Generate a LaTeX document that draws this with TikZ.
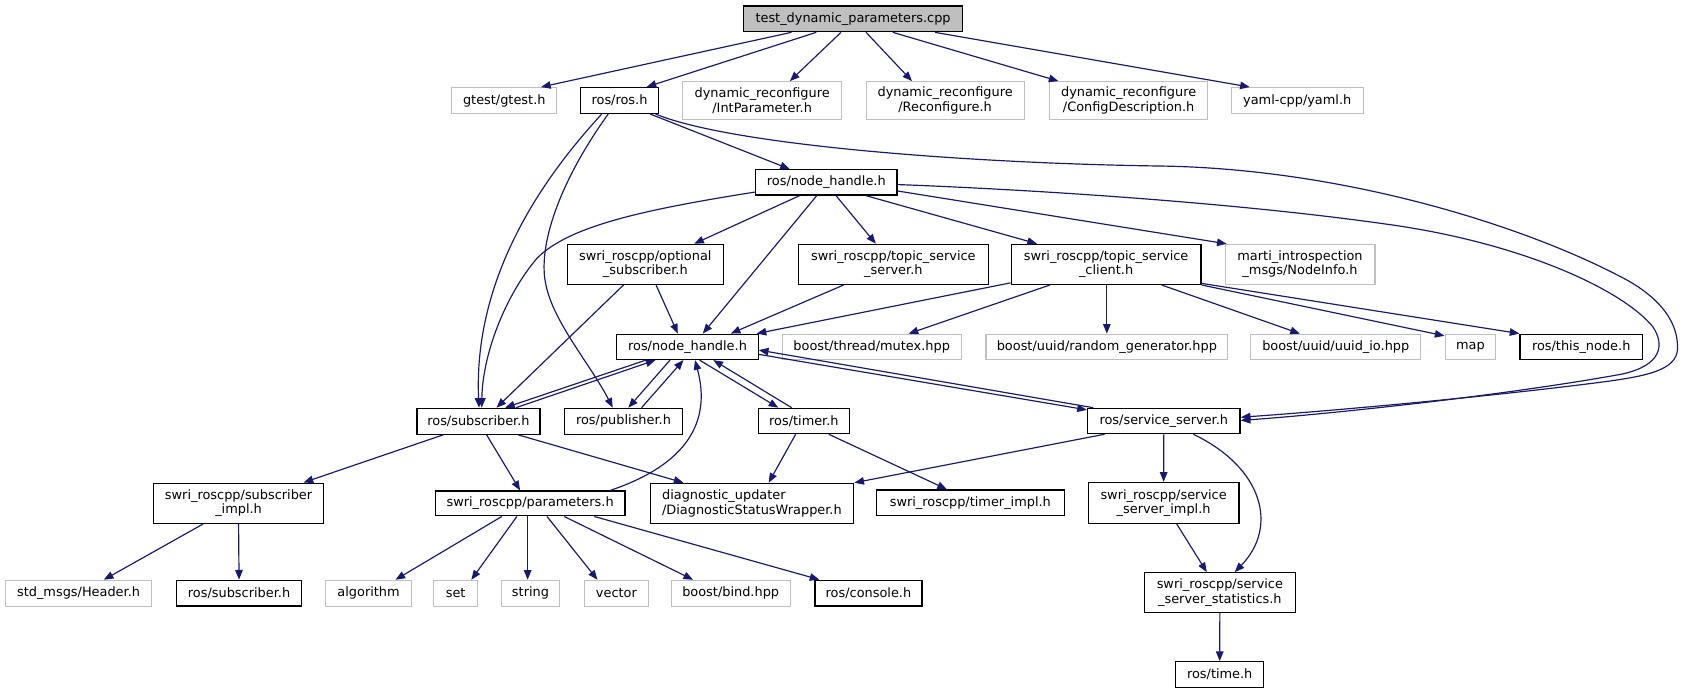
\documentclass[tikz,border=0pt]{standalone}
\usepackage{fontspec}
\setmainfont{DejaVu Sans}
\usetikzlibrary{arrows.meta}
\definecolor{edgeblue}{RGB}{25,25,112}
\definecolor{lgray}{RGB}{191,191,191}
\newcommand\gn[7]{\node[#1, minimum width={(#5-#3)*1pt}, minimum height={(#6-#4)*1pt}] (#2) at ({(#3+#5)/2},{(#4+#6)/2}) {#7};}
\begin{document}
\begin{tikzpicture}[x=1pt,y=-1pt,
  nb/.style={draw=black, line width=1.2pt, inner sep=0pt, align=center, font=\fontsize{12}{13.5}\selectfont},
  ng/.style={nb, draw=lgray, line width=1pt},
  nroot/.style={nb, fill=lgray},
  e/.style={draw=edgeblue, line width=1.1pt, -{Triangle[length=9pt,width=7pt]}}]
\useasboundingbox (0,0) rectangle (1568,645);
% row 0
\gn{nroot}{nA}{692}{5.6}{895.7}{29.5}{test\_dynamic\_parameters.cpp}
% row 1
\gn{ng}{nGtest}{420.5}{81.5}{518}{105.5}{gtest/gtest.h}
\gn{nb}{nRos}{540}{81.5}{613}{105.5}{ros/ros.h}
\gn{ng}{nInt}{635.5}{76}{783}{111}{dynamic\_reconfigure\\/IntParameter.h}
\gn{ng}{nRec}{806}{76}{953}{111}{dynamic\_reconfigure\\/Reconfigure.h}
\gn{ng}{nCfg}{976.5}{76}{1124}{111}{dynamic\_reconfigure\\/ConfigDescription.h}
\gn{ng}{nYaml}{1145.6}{81.5}{1268.7}{105.5}{yaml-cpp/yaml.h}
% row 2
\gn{nb}{nNHa}{703}{158}{834.8}{181.5}{ros/node\_handle.h}
% row 3
\gn{nb}{nOpt}{528}{227.4}{673}{264.6}{swri\_roscpp/optional\\\_subscriber.h}
\gn{nb}{nTss}{743}{227.4}{919.6}{264.6}{swri\_roscpp/topic\_service\\\_server.h}
\gn{nb}{nTsc}{941}{227.4}{1117.6}{264.6}{swri\_roscpp/topic\_service\\\_client.h}
\gn{ng}{nMarti}{1140}{227.4}{1279.5}{264.6}{marti\_introspection\\\_msgs/NodeInfo.h}
% row 4
\gn{nb}{nNHb}{574}{311}{705.5}{334.5}{ros/node\_handle.h}
\gn{ng}{nMutex}{728}{311}{894.3}{334.5}{boost/thread/mutex.hpp}
\gn{ng}{nRand}{917.5}{311}{1142.5}{334.5}{boost/uuid/random\_generator.hpp}
\gn{ng}{nUuid}{1164}{311}{1322}{334.5}{boost/uuid/uuid\_io.hpp}
\gn{ng}{nMap}{1344.7}{311}{1392}{334.5}{map}
\gn{nb}{nThis}{1414.5}{311}{1528.3}{334.5}{ros/this\_node.h}
% row 5
\gn{nb}{nSub}{388}{380}{502.5}{404}{ros/subscriber.h}
\gn{nb}{nPub}{525.4}{380}{635}{404}{ros/publisher.h}
\gn{nb}{nTimer}{705.6}{380}{790.5}{403.5}{ros/timer.h}
\gn{nb}{nSS}{1012}{380}{1154}{403.5}{ros/service\_server.h}
% row 6
\gn{nb}{nSubImpl}{143}{449.6}{301}{487}{swri\_roscpp/subscriber\\\_impl.h}
\gn{nb}{nParams}{405}{457}{581.6}{480}{swri\_roscpp/parameters.h}
\node[nb, align=left, minimum width=189.4pt, minimum height=37.2pt] (nDiag) at (699.7,468.4) {diagnostic\_updater\\/DiagnosticStatusWrapper.h};
\gn{nb}{nTimerImpl}{815.6}{456}{990.3}{480}{swri\_roscpp/timer\_impl.h}
\gn{nb}{nSSImpl}{1012.6}{449}{1153}{487}{swri\_roscpp/service\\\_server\_impl.h}
% row 7
\gn{ng}{nHeader}{5.2}{540}{141}{564}{std\_msgs/Header.h}
\gn{nb}{nSubB}{164.5}{540}{280.4}{564}{ros/subscriber.h}
\gn{ng}{nAlgo}{303}{540}{383}{564}{algorithm}
\gn{ng}{nSet}{403.7}{540}{444.4}{564}{set}
\gn{ng}{nString}{466.3}{540}{521}{564}{string}
\gn{ng}{nVector}{544}{540}{603.2}{564}{vector}
\gn{ng}{nBind}{624.6}{540}{735.3}{564}{boost/bind.hpp}
\gn{nb}{nConsole}{758.3}{540}{858}{564}{ros/console.h}
\gn{nb}{nStats}{1064.9}{533}{1205.4}{570}{swri\_roscpp/service\\\_server\_statistics.h}
% row 8
\gn{nb}{nTime}{1094}{615.8}{1176}{639.5}{ros/time.h}

% edges from root
\draw[e] ([xshift=-57.35pt]nA.south) -- ([xshift=34.15pt]nGtest.north);
\draw[e] ([xshift=-34.25pt]nA.south) -- ([xshift=25.2pt]nRos.north);
\draw[e] ([xshift=-11.25pt]nA.south) -- ([xshift=25.75pt]nInt.north);
\draw[e] ([xshift=12.05pt]nA.south) -- ([xshift=-30.8pt]nRec.north);
\draw[e] ([xshift=36.95pt]nA.south) -- ([xshift=-65.25pt]nCfg.north);
\draw[e] ([xshift=76.15pt]nA.south) -- ([xshift=-44.15pt]nYaml.north);
% ros/ros.h
\draw[e] ([xshift=28.5pt]nRos.south) -- ([xshift=-33.9pt]nNHa.north);
\draw[e] ([xshift=-16.5pt]nRos.south) .. controls (515,155) and (440,250) .. ([xshift=0.5pt]nSub.north);
\draw[e] ([xshift=-10.5pt]nRos.south) .. controls (520,170) and (500,230) .. (508,265) .. controls (515,300) and (550,340) .. ([xshift=-10pt]nPub.north);
\draw[e] ([xshift=33.5pt]nRos.south) .. controls (680,135) and (900,152) .. (1080,154.5) .. controls (1250,157) and (1420,210) .. (1514,260.6) .. controls (1545,278) and (1562,300) .. (1561,325) .. controls (1560,345) and (1530,350) .. (1495,355) .. controls (1380,370) and (1230,383) .. ([yshift=3.5pt]nSS.east);
% first node_handle
\draw[e] ([yshift=-9pt]nNHa.west) .. controls (600,195) and (530,210) .. (500,240) .. controls (470,275) and (449,330) .. ([xshift=3pt]nSub.north);
\draw[e] ([xshift=-24.9pt]nNHa.south) -- ([xshift=45.5pt]nOpt.north);
\draw[e] ([xshift=-8.9pt]nNHa.south) -- ([xshift=14.25pt]nNHb.north);
\draw[e] ([xshift=9.1pt]nNHa.south) -- ([xshift=-16.3pt]nTss.north);
\draw[e] ([xshift=37.1pt]nNHa.south) -- ([xshift=-64.3pt]nTsc.north);
\draw[e] ([yshift=-8pt]nNHa.east) -- ([xshift=2pt]nMarti.north west);
\draw[e] ([yshift=-2pt]nNHa.east) .. controls (950,176) and (1150,188) .. (1300,210) .. controls (1420,228) and (1510,270) .. (1538,304) .. controls (1550,322) and (1545,340) .. (1510,348) .. controls (1400,368) and (1240,385) .. ([yshift=0.5pt]nSS.east);
% optional subscriber
\draw[e] ([xshift=-20.3pt]nOpt.south) -- ([xshift=16.75pt]nSub.north);
\draw[e] ([xshift=10pt]nOpt.south) -- ([xshift=-9pt]nNHb.north);
% topic service server / client
\draw[e] ([xshift=-46.3pt]nTss.south) -- ([xshift=40.25pt]nNHb.north);
\draw[e] ([yshift=2pt]nTsc.south west) -- ([xshift=-2pt]nNHb.north east);
\draw[e] ([xshift=-52.3pt]nTsc.south) -- ([xshift=34.35pt]nMutex.north);
\draw[e] ([xshift=0.7pt]nTsc.south) -- (nRand.north);
\draw[e] ([xshift=51.7pt]nTsc.south) -- ([xshift=-33.3pt]nUuid.north);
\draw[e] (nTsc.south east) -- ([yshift=-2pt]nMap.north west);
\draw[e] ([yshift=1.5pt]nTsc.south east) -- (nThis.north west);
% second node_handle and its mutual includes
\draw[e] ([xshift=-38.75pt]nNHb.south) -- ([xshift=24.75pt]nSub.north);
\draw[e] ([xshift=34.75pt]nSub.north) -- ([xshift=-29.75pt]nNHb.south);
\draw[e] ([xshift=-16.25pt]nNHb.south) -- ([xshift=4.5pt]nPub.north);
\draw[e] ([xshift=16.8pt]nPub.north) -- ([xshift=-3.75pt]nNHb.south);
\draw[e] ([xshift=11.25pt]nNHb.south) -- ([xshift=-23.75pt]nTimer.north);
\draw[e] ([xshift=-11.35pt]nTimer.north) -- ([xshift=24.05pt]nNHb.south);
\draw[e] ([yshift=-7pt]nNHb.east) -- ([yshift=-2pt]nSS.north west);
\draw[e] ([xshift=6pt]nSS.north west) -- ([yshift=-3pt]nNHb.east);
\draw[e] ([xshift=74.4pt]nParams.north) .. controls (640,432) and (662,392) .. ([xshift=7pt]nNHb.south);
% subscriber
\draw[e] ([xshift=-32.75pt]nSub.south) -- ([xshift=60.5pt]nSubImpl.north);
\draw[e] ([xshift=7.55pt]nSub.south) -- ([xshift=-9.3pt]nParams.north);
\draw[e] ([xshift=36.75pt]nSub.south) -- ([xshift=-63.7pt]nDiag.north);
% timer
\draw[e] ([xshift=-7.65pt]nTimer.south) -- ([xshift=15.6pt]nDiag.north);
\draw[e] ([xshift=23.15pt]nTimer.south) -- ([xshift=-21.75pt]nTimerImpl.north);
% service server
\draw[e] ([xshift=-55.2pt]nSS.south) -- (nDiag.north east);
\draw[e] (nSS.south) -- (nSSImpl.north);
\draw[e] ([xshift=27.5pt]nSS.south) .. controls (1175,435) and (1190,490) .. ([xshift=13.85pt]nStats.north);
\draw[e] ([xshift=12.2pt]nSSImpl.south) -- ([xshift=-12.15pt]nStats.north);
\draw[e] (nStats.south) -- (nTime.north);
% subscriber impl
\draw[e] ([xshift=-33pt]nSubImpl.south) -- ([xshift=23.5pt]nHeader.north);
\draw[e] (nSubImpl.south) -- (nSubB.north);
% parameters
\draw[e] ([xshift=-26.3pt]nParams.south) -- ([xshift=25pt]nAlgo.north);
\draw[e] ([xshift=-12.3pt]nParams.south) -- ([xshift=14.55pt]nSet.north);
\draw[e] ([xshift=-2.3pt]nParams.south) -- ([xshift=-2.65pt]nString.north);
\draw[e] ([xshift=15.7pt]nParams.south) -- ([xshift=-17.6pt]nVector.north);
\draw[e] ([xshift=31.7pt]nParams.south) -- ([xshift=-34.95pt]nBind.north);
\draw[e] ([xshift=59.7pt]nParams.south) -- ([xshift=-45.65pt]nConsole.north);
\end{tikzpicture}
\end{document}
